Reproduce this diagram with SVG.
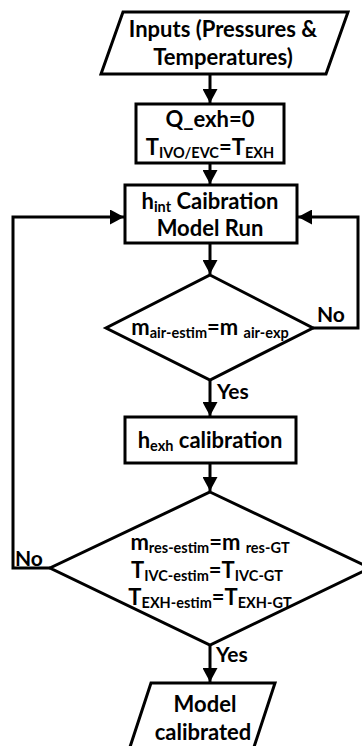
<svg xmlns="http://www.w3.org/2000/svg" width="362" height="746" viewBox="0 0 362 746">
<defs>
<marker id="ah" viewBox="0 0 14 15" refX="14" refY="7.5" markerWidth="14" markerHeight="15" markerUnits="userSpaceOnUse" orient="auto">
<path d="M0,0 L14,7.5 L0,15 Z" fill="#000"/>
</marker>
<style>
.s{fill:#fff;stroke:#000;stroke-width:3;stroke-linejoin:miter}
.c{fill:none;stroke:#000;stroke-width:3;marker-end:url(#ah)}
.t{font-family:Lato,"Liberation Sans",sans-serif;font-weight:bold;font-size:22px;fill:#000;text-anchor:middle}
.l{font-family:Lato,"Liberation Sans",sans-serif;font-weight:bold;font-size:21px;fill:#000}
.sub{font-size:14.5px}
</style>
</defs>
<rect width="362" height="746" fill="#fff"/>
<g id="connectors">
<line class="c" x1="210" y1="74" x2="210" y2="103"/>
<line class="c" x1="210" y1="163" x2="210" y2="184"/>
<line class="c" x1="210" y1="243" x2="210" y2="274"/>
<line class="c" x1="210" y1="380" x2="210" y2="416"/>
<line class="c" x1="210" y1="463" x2="210" y2="491"/>
<line class="c" x1="210" y1="645" x2="210" y2="682"/>
<polyline class="c" points="313,328 358,328 358,217 298,217"/>
<polyline class="c" points="50,568 13,568 13,217 124,217"/>
<text class="l" x="217" y="399">Yes</text>
<text class="l" x="216" y="662">Yes</text>
<text class="l" x="317" y="322">No</text>
<text class="l" x="15" y="566">No</text>
</g>
<g id="inputs">
<polygon class="s" points="123,12 348,12 326,74 101,74"/>
<text class="t" x="223" y="37">Inputs (Pressures &amp;</text>
<text class="t" x="223" y="65">Temperatures)</text>
</g>
<g id="init">
<rect class="s" x="136" y="104" width="148" height="59"/>
<text class="t" x="210" y="127">Q_exh=0</text>
<text class="t" x="210" y="155">T<tspan class="sub" dy="3">IVO/EVC</tspan><tspan dy="-3">=T</tspan><tspan class="sub" dy="3">EXH</tspan></text>
</g>
<g id="hint">
<rect class="s" x="125" y="185" width="172" height="58"/>
<text class="t" x="210" y="209">h<tspan class="sub" dy="3">int</tspan><tspan dy="-3"> Caibration</tspan></text>
<text class="t" x="210" y="236">Model Run</text>
</g>
<g id="dec1">
<polygon class="s" points="210,275 313,328 210,380 106,328"/>
<text class="t" x="210" y="335">m<tspan class="sub" dy="3">air-estim</tspan><tspan dy="-3">=m </tspan><tspan class="sub" dy="3">air-exp</tspan></text>
</g>
<g id="hexh">
<rect class="s" x="125" y="417" width="171" height="46"/>
<text class="t" x="210" y="448">h<tspan class="sub" dy="3">exh</tspan><tspan dy="-3"> calibration</tspan></text>
</g>
<g id="dec2">
<polygon class="s" points="210,492 370,568 210,645 50,568"/>
<text class="t" x="210" y="550">m<tspan class="sub" dy="3">res-estim</tspan><tspan dy="-3">=m </tspan><tspan class="sub" dy="3">res-GT</tspan></text>
<text class="t" x="207" y="578">T<tspan class="sub" dy="3">IVC-estim</tspan><tspan dy="-3">=T</tspan><tspan class="sub" dy="3">IVC-GT</tspan></text>
<text class="t" x="210" y="605">T<tspan class="sub" dy="3">EXH-estim</tspan><tspan dy="-3">=T</tspan><tspan class="sub" dy="3">EXH-GT</tspan></text>
</g>
<g id="output">
<polygon class="s" points="151,683 275,683 253,750 129,750"/>
<text class="t" x="205" y="712">Model</text>
<text class="t" x="203" y="740">calibrated</text>
</g>
</svg>
